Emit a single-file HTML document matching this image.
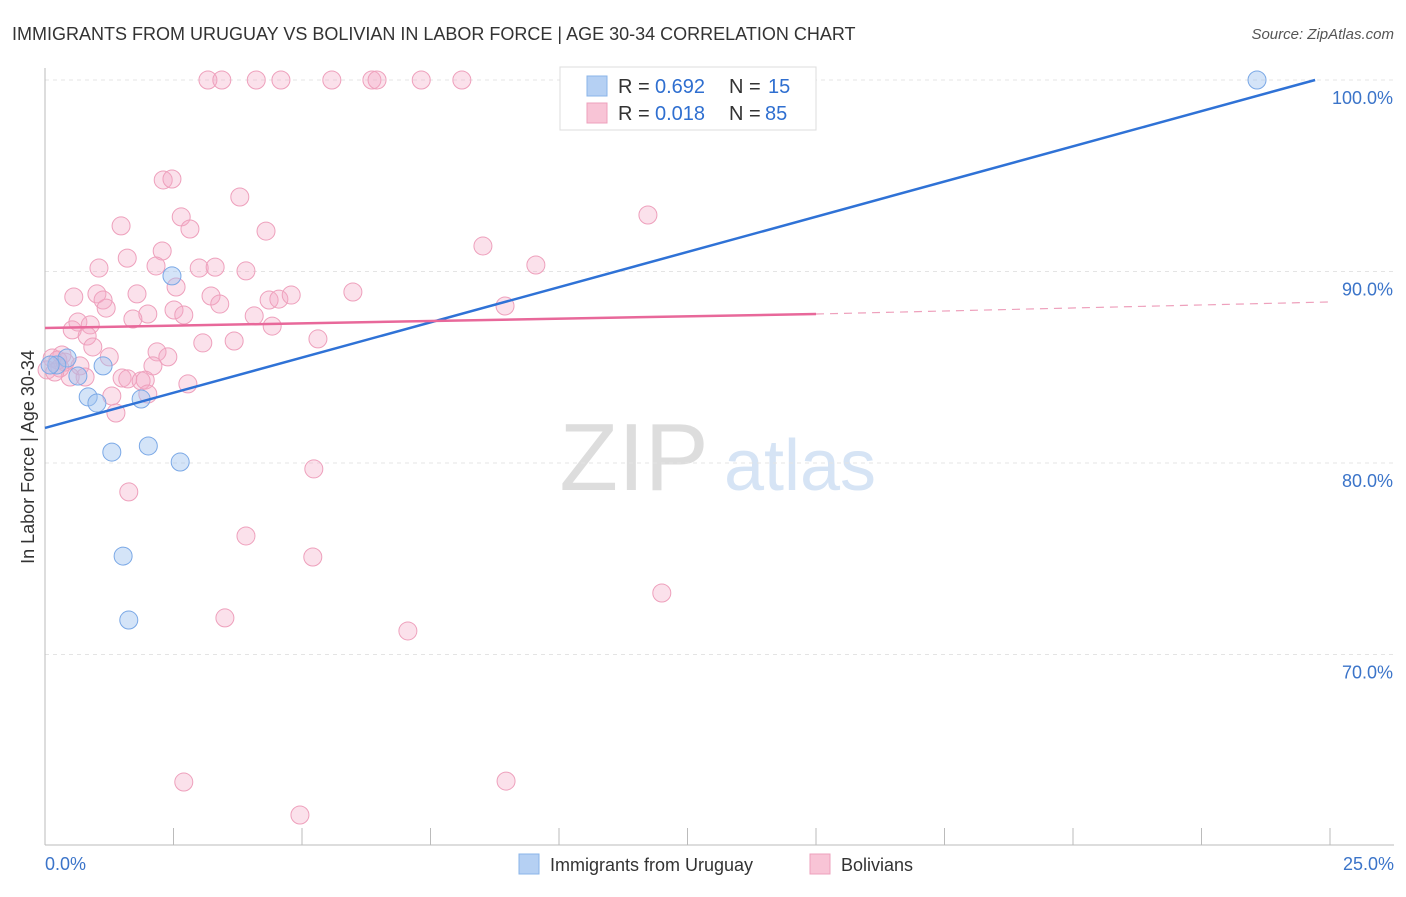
<!DOCTYPE html>
<html><head><meta charset="utf-8"><style>
body{margin:0;background:#fff;font-family:"Liberation Sans",sans-serif;}
svg text{font-family:"Liberation Sans",sans-serif;}
</style></head><body>
<svg id="c" width="1406" height="892">
<text x="12" y="40" font-size="18" fill="#333">IMMIGRANTS FROM URUGUAY VS BOLIVIAN IN LABOR FORCE | AGE 30-34 CORRELATION CHART</text>
<text x="1394" y="39" font-size="15" fill="#555" font-style="italic" text-anchor="end">Source: ZipAtlas.com</text>
<text x="634" y="490" font-size="96" fill="#ddd" font-family="Liberation Serif" text-anchor="middle">ZIP</text>
<text x="800" y="490" font-size="72" fill="#d6e4f5" text-anchor="middle">atlas</text>
<text transform="translate(34,457) rotate(-90)" font-size="18" fill="#333" text-anchor="middle">In Labor Force | Age 30-34</text>
<g id="grid"></g><g id="marks"></g>
<g>
<rect x="560" y="67" width="256" height="63" fill="#fff" stroke="#ddd"/>
<rect x="587" y="76" width="20" height="20" fill="#b5d0f3" stroke="#8ab4e8"/>
<rect x="587" y="103" width="20" height="20" fill="#f8c4d6" stroke="#eea0bc"/>
<text x="618" y="93" font-size="20" fill="#333">R = </text><text x="655" y="93" font-size="20" fill="#2f6fd0">0.692</text>
<text x="729" y="93" font-size="20" fill="#333">N = </text><text x="768" y="93" font-size="20" fill="#2f6fd0">15</text>
<text x="618" y="120" font-size="20" fill="#333">R = </text><text x="655" y="120" font-size="20" fill="#2f6fd0">0.018</text>
<text x="729" y="120" font-size="20" fill="#333">N = </text><text x="765" y="120" font-size="20" fill="#2f6fd0">85</text>
</g>
<g>
<rect x="519" y="854" width="20" height="20" fill="#b5d0f3" stroke="#8ab4e8"/>
<text x="550" y="871" font-size="18" fill="#333">Immigrants from Uruguay</text>
<rect x="810" y="854" width="20" height="20" fill="#f8c4d6" stroke="#eea0bc"/>
<text x="841" y="871" font-size="18" fill="#333">Bolivians</text>
</g>
</svg>
<script>
const blueX=[23.58,2.47,0.43,0.23,1.13,0.64,0.84,1.01,1.87,2.01,1.30,2.63,1.52,1.63,0.10];
const blueY=[100,89.77,85.48,85.12,85.07,84.54,83.45,83.13,83.34,80.89,80.57,80.05,75.14,71.80,85.12];
const pinkX=[3.17,3.44,4.11,4.59,5.58,6.36,6.46,7.32,8.11,2.30,2.47,3.79,1.48,2.65,2.82,4.30,11.73,2.28,8.52,1.60,2.16,1.05,3.00,3.31,3.91,9.55,0.56,1.01,1.13,1.79,2.55,3.23,4.36,4.55,4.79,5.99,1.19,2.00,2.51,2.70,3.40,8.95,1.71,0.64,0.88,0.53,4.07,4.42,0.82,3.07,3.68,5.31,0.93,2.18,1.25,2.39,0.33,0.14,0.25,0.68,2.10,0.04,0.49,0.78,1.50,1.61,1.87,1.95,2.78,1.30,2.00,1.38,5.23,1.63,3.91,5.21,12.00,3.50,7.06,2.70,8.97,4.96,0.29,0.19,0.39];
const pinkY=[100,100,100,100,100,100,100,100,100,94.78,94.83,93.89,92.38,92.85,92.22,92.11,92.95,91.07,91.33,90.70,90.29,90.18,90.18,90.23,90.03,90.34,88.67,88.83,88.51,88.83,89.19,88.72,88.51,88.56,88.77,88.93,88.09,87.78,87.99,87.73,88.30,88.20,87.52,87.36,87.21,86.95,87.68,87.15,86.63,86.27,86.37,86.48,86.06,85.80,85.54,85.54,85.64,85.48,85.38,85.07,85.07,84.86,84.49,84.49,84.44,84.39,84.29,84.33,84.13,83.50,83.60,82.61,79.69,78.49,76.19,75.09,73.21,71.91,71.23,63.34,63.39,61.62,84.96,84.75,85.27];
const blueLine=[0,81.83,24.71,100];
const pinkLine=[0,87.05,15,87.78,25,88.41];
const yTicks=[100,90,80,70];
const xTickLabels=["0.0%","25.0%"];
const X=v=>45+v*51.4, Y=v=>80+(100-v)*19.15;
const NS="http://www.w3.org/2000/svg";
function mk(t,a,p){const e=document.createElementNS(NS,t);for(const k in a)e.setAttribute(k,a[k]);p.appendChild(e);return e;}
const g=document.getElementById('grid'),m=document.getElementById('marks');
yTicks.forEach(v=>{
 const l=mk('line',{x1:45,x2:1394,y1:Y(v),y2:Y(v),stroke:'#e4e4e4','stroke-dasharray':'4,4'},g);
 
 
 const t=mk('text',{x:1393,y:Y(v)+24,'font-size':18,fill:'#3b74c9','text-anchor':'end'},g);t.textContent=v.toFixed(1)+'%';
 
 
});
const ax=mk('line',{x1:45,x2:45,y1:68,y2:845,stroke:'#bbb'},g);


const bx=mk('line',{x1:45,x2:1394,y1:845,y2:845,stroke:'#bbb'},g);


for(let i=0;i<=25;i+=2.5){const t=mk('line',{x1:X(i),x2:X(i),y1:828,y2:845,stroke:'#bbb'},g);
 
 }
[[0,45,'start'],[1,1394,'end']].forEach(([i,x,a])=>{const t=mk('text',{x:x,y:870,'font-size':18,fill:'#3b74c9','text-anchor':a},g);t.textContent=xTickLabels[i];
 
 });
pinkX.forEach((v,i)=>{const c=mk('circle',{cx:X(v),cy:Y(pinkY[i]),r:9,fill:'rgba(244,170,198,0.35)',stroke:'#eea0bc','stroke-width':1},m);
 
 });
blueX.forEach((v,i)=>{const c=mk('circle',{cx:X(v),cy:Y(blueY[i]),r:9,fill:'rgba(160,196,240,0.45)',stroke:'#7aa8e6','stroke-width':1},m);
 
 });
const bl=mk('line',{x1:X(blueLine[0]),y1:Y(blueLine[1]),x2:X(blueLine[2]),y2:Y(blueLine[3]),stroke:'#2f72d6','stroke-width':2.5},m);


const pl=mk('line',{x1:X(pinkLine[0]),y1:Y(pinkLine[1]),x2:X(pinkLine[2]),y2:Y(pinkLine[3]),stroke:'#e8689a','stroke-width':2.5},m);


const pd=mk('line',{x1:X(pinkLine[2]),y1:Y(pinkLine[3]),x2:X(pinkLine[4]),y2:Y(pinkLine[5]),stroke:'#eea0bc','stroke-width':1.2,'stroke-dasharray':'8,6'},m);


</script>
</body></html>
